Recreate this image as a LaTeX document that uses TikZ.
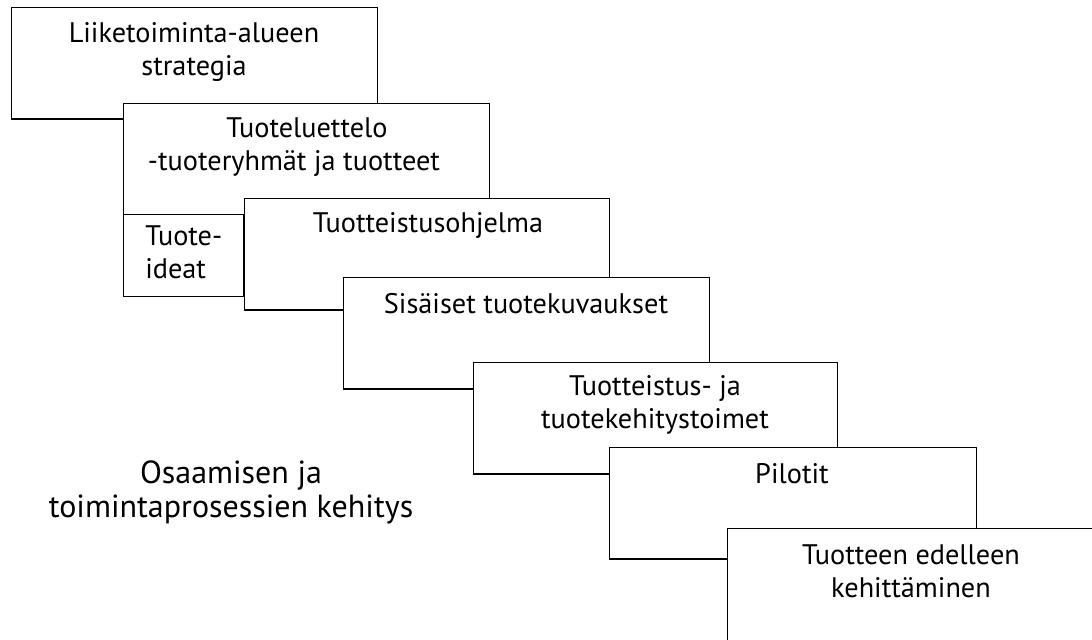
\documentclass[tikz,border=0pt]{standalone}
\usepackage{fontspec}
\setmainfont{PT Sans}
\begin{document}
\begin{tikzpicture}[x=0.75pt,y=-0.75pt,
  stagebox/.style={draw=black,line width=1.1pt,fill=white,rectangle,
    anchor=north west,inner sep=0pt,minimum width=274.5pt,minimum height=83.5pt},
  ideabox/.style={stagebox,minimum width=90pt,minimum height=61.5pt},
  boxtext/.style={anchor=base,inner sep=0pt,align=center,
    font=\fontsize{21.2}{24.75}\selectfont},
  sidetext/.style={anchor=base,inner sep=0pt,align=center,
    font=\fontsize{24}{25.5}\selectfont}]
\useasboundingbox (0,0) rectangle (1092,639);
\clip (0,0) rectangle (1092,639);

% cascade of stages, each laid over the previous one
\node[stagebox] (b1) at (11,7) {};
\node[stagebox] (b2) at (123,103) {};
\node[ideabox]  (bi) at (123,214) {};
\node[stagebox,minimum width=273.75pt] (b3) at (244,198) {};
\node[stagebox] (b4) at (343,277) {};
\node[stagebox,minimum width=273pt] (b5) at (473,362) {};
\node[stagebox,minimum width=275.25pt] (b6) at (609,447) {};
\node[stagebox,minimum height=150pt] (b7) at (727,528) {};

% stage labels (anchored at the baseline of their last line)
\node[boxtext] (t1) at (194,75) {Liiketoiminta-alueen\\strategia};
\node[boxtext] (t2) at (307,170) {Tuoteluettelo\\-tuoteryhmät ja tuotteet\hspace*{19.5pt}};
\node[boxtext,anchor=base west,align=left] (ti) at (145,278) {Tuote-\\ideat};
\node[boxtext] (t3) at (428,232) {Tuotteistusohjelma};
\node[boxtext] (t4) at (526,313) {Sisäiset tuotekuvaukset};
\node[boxtext] (t5) at (655,428) {Tuotteistus- ja\\tuotekehitystoimet};
\node[boxtext] (t6) at (792,483) {Pilotit};
\node[boxtext] (t7) at (911,597) {Tuotteen edelleen\\kehittäminen};

% side caption
\node[sidetext] (side) at (231,517) {Osaamisen ja\\toimintaprosessien kehitys};
\end{tikzpicture}
\end{document}
